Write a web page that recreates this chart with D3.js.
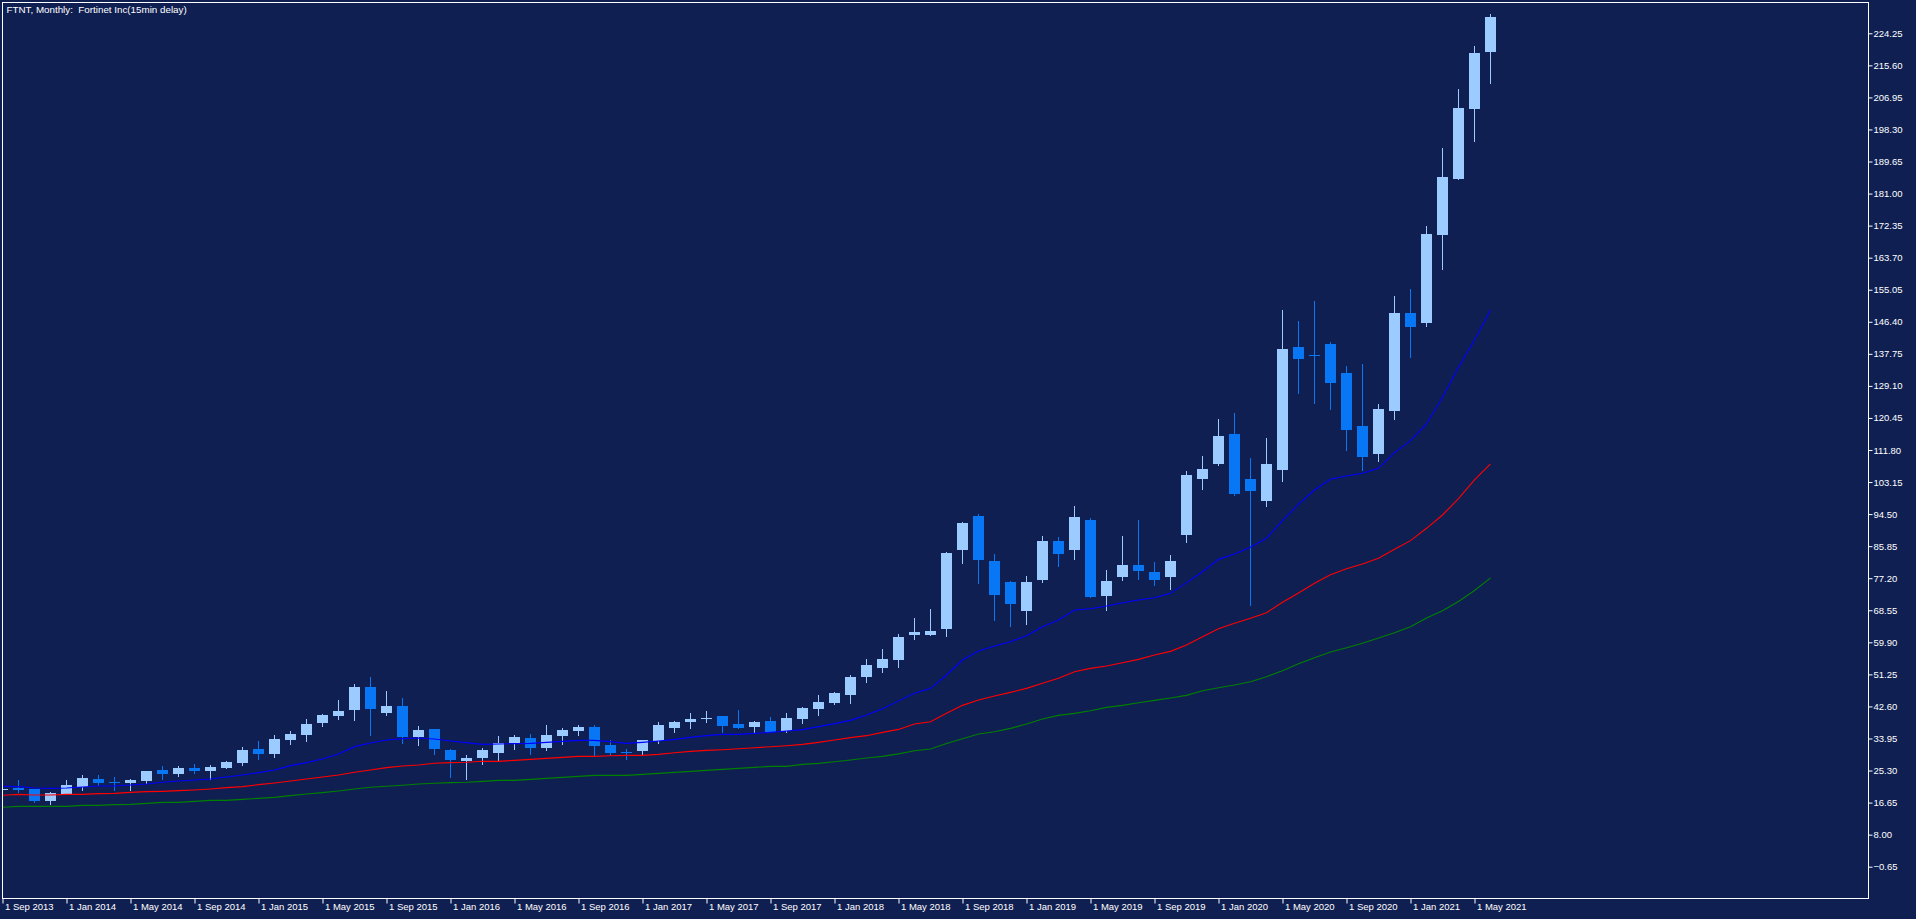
<!DOCTYPE html>
<html>
<head>
<meta charset="utf-8">
<script src="https://cdn.jsdelivr.net/npm/d3@7/dist/d3.min.js"></script>
<style>
  body { margin: 0; background: #101f52; overflow: hidden; }
  svg { display: block; }
  text { font-family: "Liberation Sans", Arial, sans-serif; font-size: 9.5px; fill: #ffffff; }
</style>
</head>
<body>
<div id="chart"></div>
<script>
// Monthly bars, Sep 2013 .. Jun 2021
const months = [
  "2013-09","2013-10","2013-11","2013-12",
  "2014-01","2014-02","2014-03","2014-04","2014-05","2014-06","2014-07","2014-08","2014-09","2014-10","2014-11","2014-12",
  "2015-01","2015-02","2015-03","2015-04","2015-05","2015-06","2015-07","2015-08","2015-09","2015-10","2015-11","2015-12",
  "2016-01","2016-02","2016-03","2016-04","2016-05","2016-06","2016-07","2016-08","2016-09","2016-10","2016-11","2016-12",
  "2017-01","2017-02","2017-03","2017-04","2017-05","2017-06","2017-07","2017-08","2017-09","2017-10","2017-11","2017-12",
  "2018-01","2018-02","2018-03","2018-04","2018-05","2018-06","2018-07","2018-08","2018-09","2018-10","2018-11","2018-12",
  "2019-01","2019-02","2019-03","2019-04","2019-05","2019-06","2019-07","2019-08","2019-09","2019-10","2019-11","2019-12",
  "2020-01","2020-02","2020-03","2020-04","2020-05","2020-06","2020-07","2020-08","2020-09","2020-10","2020-11","2020-12",
  "2021-01","2021-02","2021-03","2021-04","2021-05","2021-06"
];

const open = [
  20.15, 20.65, 20.3, 17.1, 19.0, 20.86, 23.0, 22.15, 21.95, 22.5, 25.45, 24.4, 26.0, 25.2, 26.0, 27.35,
  31.1, 29.75, 33.55, 34.9, 38.15, 40.0, 41.65, 47.85, 40.85, 42.7, 34.35, 36.5, 30.85, 27.9, 28.7, 30.05,
  32.75, 34.1, 31.4, 34.6, 35.95, 37.05, 32.2, 30.25, 30.55, 33.25, 36.8, 38.4, 39.35, 40.0, 37.85, 37.05,
  38.65, 35.95, 39.2, 41.9, 43.5, 45.7, 50.55, 52.95, 55.1, 61.85, 61.9, 63.5, 84.8, 94.0, 81.85, 76.15,
  68.35, 76.7, 87.25, 84.8, 92.9, 72.4, 77.5, 80.75, 78.85, 77.5, 88.85, 104.0, 108.0, 116.1, 103.95, 98.05,
  106.4, 139.6, 137.35, 140.4, 132.6, 118.3, 110.7, 122.35, 148.75, 146.1, 169.8, 184.95, 203.85, 219.2
];
const high = [
  20.9, 22.75, 20.4, 19.6, 22.75, 24.1, 24.1, 23.55, 23.0, 25.2, 26.5, 26.5, 27.1, 26.8, 27.9, 31.65,
  33.25, 34.9, 35.95, 39.2, 40.55, 44.35, 48.65, 50.55, 46.75, 44.9, 37.3, 36.6, 31.0, 29.5, 31.4, 34.6,
  34.9, 35.15, 37.6, 36.8, 37.6, 37.6, 33.55, 31.1, 33.6, 38.4, 38.65, 40.8, 41.35, 40.0, 41.6, 38.65,
  39.75, 40.8, 42.45, 45.7, 46.5, 51.1, 55.4, 58.1, 62.15, 66.45, 68.9, 84.3, 92.35, 94.5, 83.75, 76.45,
  77.8, 88.6, 88.3, 96.7, 93.45, 79.4, 88.6, 92.9, 81.55, 83.45, 106.1, 110.2, 120.15, 121.8, 109.65, 115.05,
  149.6, 146.6, 152.0, 140.95, 134.5, 135.0, 124.2, 153.35, 155.25, 172.25, 193.3, 209.2, 220.8, 229.45
];
const low = [
  19.9, 19.6, 16.8, 16.3, 18.9, 20.05, 21.4, 20.05, 20.05, 21.95, 23.0, 23.85, 24.65, 23.0, 26.0, 26.8,
  28.4, 28.95, 32.45, 33.25, 37.3, 39.2, 38.95, 34.9, 40.3, 32.75, 32.2, 29.75, 23.55, 23.0, 27.05, 27.85,
  31.1, 29.75, 30.85, 32.45, 34.9, 29.2, 29.5, 28.4, 29.75, 32.75, 35.7, 36.8, 38.4, 35.7, 36.75, 35.7,
  35.7, 35.7, 38.1, 40.3, 43.25, 43.5, 49.2, 51.9, 53.25, 60.8, 61.85, 61.6, 81.3, 75.9, 65.9, 64.3,
  64.85, 76.15, 80.5, 82.4, 72.1, 68.6, 76.7, 77.0, 75.35, 74.3, 86.95, 101.3, 107.75, 99.65, 69.95, 96.7,
  103.45, 127.2, 124.5, 122.85, 111.8, 106.4, 108.85, 120.15, 136.9, 145.25, 160.65, 184.9, 195.2, 210.85
];
const close = [
  20.25, 20.12, 17.1, 19.25, 21.4, 23.3, 21.95, 22.1, 22.75, 25.2, 24.4, 26.0, 25.2, 26.25, 27.6, 30.85,
  29.75, 33.8, 35.15, 37.85, 40.3, 41.35, 47.85, 41.9, 42.7, 34.35, 36.25, 31.1, 28.15, 28.7, 30.85, 32.75,
  34.35, 31.4, 34.9, 36.25, 37.05, 31.9, 30.05, 30.2, 33.55, 37.6, 38.4, 39.2, 39.4, 37.3, 36.8, 38.4,
  35.7, 39.45, 42.15, 43.8, 46.2, 50.55, 53.8, 55.4, 61.35, 62.7, 62.95, 84.0, 92.1, 82.1, 72.65, 70.25,
  76.15, 87.25, 83.75, 93.7, 72.15, 76.45, 80.75, 79.15, 76.7, 81.85, 105.05, 106.65, 115.55, 99.9, 100.75, 108.0,
  139.05, 136.35, 137.3, 129.9, 117.2, 109.9, 122.85, 148.75, 145.0, 170.1, 185.5, 204.1, 218.95, 228.65
];

// Moving averages as drawn on the chart
const maBlue = [
  21.04, 20.95, 20.59, 20.50, 20.59, 20.86, 21.13, 21.13, 21.40, 21.67, 22.12, 22.48, 22.75, 23.02, 23.56, 24.10,
  24.73, 25.45, 26.62, 27.43, 28.42, 29.77, 31.75, 32.74, 33.54, 33.90, 34.08, 33.81, 33.27, 32.82, 32.37, 32.46,
  32.55, 32.64, 32.91, 33.18, 33.45, 33.45, 33.09, 32.64, 32.91, 33.27, 33.72, 34.26, 34.71, 35.07, 35.07, 35.34,
  35.61, 35.97, 36.33, 37.14, 37.95, 38.84, 40.28, 41.95, 44.10, 46.13, 47.48, 51.08, 55.13, 57.55, 58.90, 60.07,
  61.69, 64.12, 65.92, 68.62, 68.98, 69.70, 70.60, 71.32, 71.95, 73.12, 76.00, 78.96, 82.29, 83.73, 85.53, 87.96,
  92.72, 97.20, 101.01, 103.89, 104.79, 105.51, 106.86, 111.08, 114.32, 118.82, 126.02, 134.11, 141.49, 149.58
];
const maRed = [
  18.61, 18.88, 18.70, 18.70, 18.88, 18.88, 19.06, 19.15, 19.42, 19.60, 19.69, 19.87, 20.05, 20.32, 20.68, 20.95,
  21.49, 21.94, 22.48, 23.02, 23.56, 24.10, 24.82, 25.45, 26.08, 26.53, 26.80, 27.25, 27.43, 27.52, 27.79, 27.78,
  28.05, 28.32, 28.59, 28.86, 29.13, 29.13, 29.31, 29.40, 29.40, 29.67, 30.12, 30.48, 30.75, 30.93, 31.20, 31.47,
  31.74, 32.01, 32.37, 32.91, 33.54, 34.17, 34.71, 35.60, 36.40, 37.85, 38.48, 40.73, 42.89, 44.33, 45.41, 46.40,
  47.48, 48.83, 50.18, 51.97, 52.88, 53.50, 54.40, 55.30, 56.47, 57.46, 59.17, 61.42, 63.58, 65.02, 66.37, 67.90,
  70.70, 73.20, 75.82, 78.16, 79.78, 81.04, 82.57, 85.00, 87.34, 90.67, 94.26, 98.67, 103.71, 108.03
];
const maGreen = [
  15.37, 15.64, 15.64, 15.64, 15.64, 15.91, 15.91, 16.09, 16.18, 16.45, 16.72, 16.72, 16.99, 17.26, 17.26, 17.53,
  17.80, 18.07, 18.52, 18.97, 19.33, 19.78, 20.32, 20.77, 21.04, 21.31, 21.67, 21.85, 22.03, 22.12, 22.38, 22.65,
  22.65, 22.92, 23.19, 23.46, 23.73, 24.00, 24.00, 24.00, 24.27, 24.54, 24.81, 25.08, 25.35, 25.62, 25.89, 26.16,
  26.43, 26.43, 26.97, 27.24, 27.69, 28.14, 28.68, 29.13, 29.80, 30.66, 31.10, 32.60, 33.90, 35.15, 35.78, 36.68,
  37.85, 39.20, 40.19, 40.73, 41.45, 42.35, 42.89, 43.61, 44.24, 44.87, 45.59, 46.85, 47.66, 48.38, 49.28, 50.63,
  52.25, 54.10, 55.76, 57.29, 58.46, 59.63, 61.07, 62.51, 64.13, 66.47, 68.45, 70.90, 73.90, 77.30
];

const priceTicks = [224.25, 215.60, 206.95, 198.30, 189.65, 181.00, 172.35, 163.70, 155.05, 146.40, 137.75,
  129.10, 120.45, 111.80, 103.15, 94.50, 85.85, 77.20, 68.55, 59.90, 51.25, 42.60, 33.95, 25.30, 16.65, 8.00, -0.65];

const timeTickMonths = ["2013-09","2014-01","2014-05","2014-09","2015-01","2015-05","2015-09","2016-01","2016-05",
  "2016-09","2017-01","2017-05","2017-09","2018-01","2018-05","2018-09","2019-01","2019-05","2019-09","2020-01",
  "2020-05","2020-09","2021-01","2021-05"];
const timeTickLabels = ["1 Sep 2013","1 Jan 2014","1 May 2014","1 Sep 2014","1 Jan 2015","1 May 2015","1 Sep 2015",
  "1 Jan 2016","1 May 2016","1 Sep 2016","1 Jan 2017","1 May 2017","1 Sep 2017","1 Jan 2018","1 May 2018",
  "1 Sep 2018","1 Jan 2019","1 May 2019","1 Sep 2019","1 Jan 2020","1 May 2020","1 Sep 2020","1 Jan 2021","1 May 2021"];

const title = "FTNT, Monthly:  Fortinet Inc(15min delay)";

// Layout
const W = 1916, H = 919;
const plot = { left: 2.5, top: 2.5, right: 1868.5, bottom: 898.5 };
const barStep = 16, bodyW = 11;
const bullColor = "#9ccbff", bearColor = "#0877f5";

const svg = d3.select("#chart").append("svg")
  .attr("width", W)
  .attr("height", H);

svg.append("rect")
  .attr("width", W).attr("height", H)
  .attr("fill", "#101f52");

// Scales
const x = d3.scalePoint()
  .domain(months)
  .range([2.5, 2.5 + barStep * (months.length - 1)]);

const y = d3.scaleLinear()
  .domain([-0.65, 224.25])
  .range([866.7, 33.3]);

svg.append("clipPath").attr("id", "plotClip")
  .append("rect")
  .attr("x", plot.left + 0.5).attr("y", plot.top + 0.5)
  .attr("width", plot.right - plot.left - 1)
  .attr("height", plot.bottom - plot.top - 1);

const g = svg.append("g").attr("clip-path", "url(#plotClip)");

const bars = months.map((m, i) => ({ m, o: open[i], h: high[i], l: low[i], c: close[i] }));
const snap = v => Math.round(v);

// Candles
const candle = g.selectAll(".candle")
  .data(bars)
  .enter()
  .append("g")
  .attr("class", "candle")
  .attr("shape-rendering", "crispEdges");

candle.append("line")
  .attr("x1", d => Math.floor(x(d.m)) + 0.5)
  .attr("x2", d => Math.floor(x(d.m)) + 0.5)
  .attr("y1", d => snap(y(d.h)))
  .attr("y2", d => snap(y(d.l)) + 1)
  .attr("stroke", d => d.c >= d.o ? bullColor : bearColor)
  .attr("stroke-width", 1);

candle.append("rect")
  .attr("x", d => Math.floor(x(d.m)) - 5)
  .attr("y", d => snap(y(Math.max(d.o, d.c))))
  .attr("width", bodyW)
  .attr("height", d => Math.max(1, snap(y(Math.min(d.o, d.c))) - snap(y(Math.max(d.o, d.c)))))
  .attr("fill", d => d.c >= d.o ? bullColor : bearColor);

// Moving averages
const line = d3.line()
  .x((d, i) => x(months[i]))
  .y(d => y(d));

[[maGreen, "#008000"], [maRed, "#ff0000"], [maBlue, "#0000ff"]].forEach(([vals, col]) => {
  g.append("path")
    .datum(vals)
    .attr("d", line)
    .attr("fill", "none")
    .attr("stroke", col)
    .attr("stroke-width", 1.1);
});

// Frame
svg.append("rect")
  .attr("x", plot.left).attr("y", plot.top)
  .attr("width", plot.right - plot.left)
  .attr("height", plot.bottom - plot.top)
  .attr("fill", "none")
  .attr("stroke", "#ffffff")
  .attr("stroke-width", 1);

// Price axis on the right
const yAxis = d3.axisRight(y)
  .tickValues(priceTicks)
  .tickSize(4)
  .tickPadding(1)
  .tickFormat(d3.format(".2f"));

const ya = svg.append("g")
  .attr("transform", `translate(${plot.right}, 0)`)
  .call(yAxis);
ya.select(".domain").remove();
ya.selectAll("line").attr("stroke", "#ffffff");
ya.selectAll("text")
  .attr("fill", "#ffffff")
  .style("font-family", "'Liberation Sans', Arial, sans-serif")
  .style("font-size", "9.5px");

// Time axis along the bottom
const xAxis = d3.axisBottom(x)
  .tickValues(timeTickMonths)
  .tickSize(5)
  .tickFormat((d, i) => timeTickLabels[i]);

const xa = svg.append("g")
  .attr("transform", `translate(0, ${plot.bottom})`)
  .call(xAxis);
xa.select(".domain").remove();
xa.selectAll("line").attr("stroke", "#ffffff");
xa.selectAll("text")
  .attr("fill", "#ffffff")
  .attr("text-anchor", "start")
  .attr("x", 2)
  .attr("y", 5)
  .style("font-family", "'Liberation Sans', Arial, sans-serif")
  .style("font-size", "9.5px");

// Title
svg.append("text")
  .attr("x", 6.5)
  .attr("y", 12.5)
  .style("white-space", "pre")
  .style("font-size", "9.8px")
  .text(title);
</script>
</body>
</html>
